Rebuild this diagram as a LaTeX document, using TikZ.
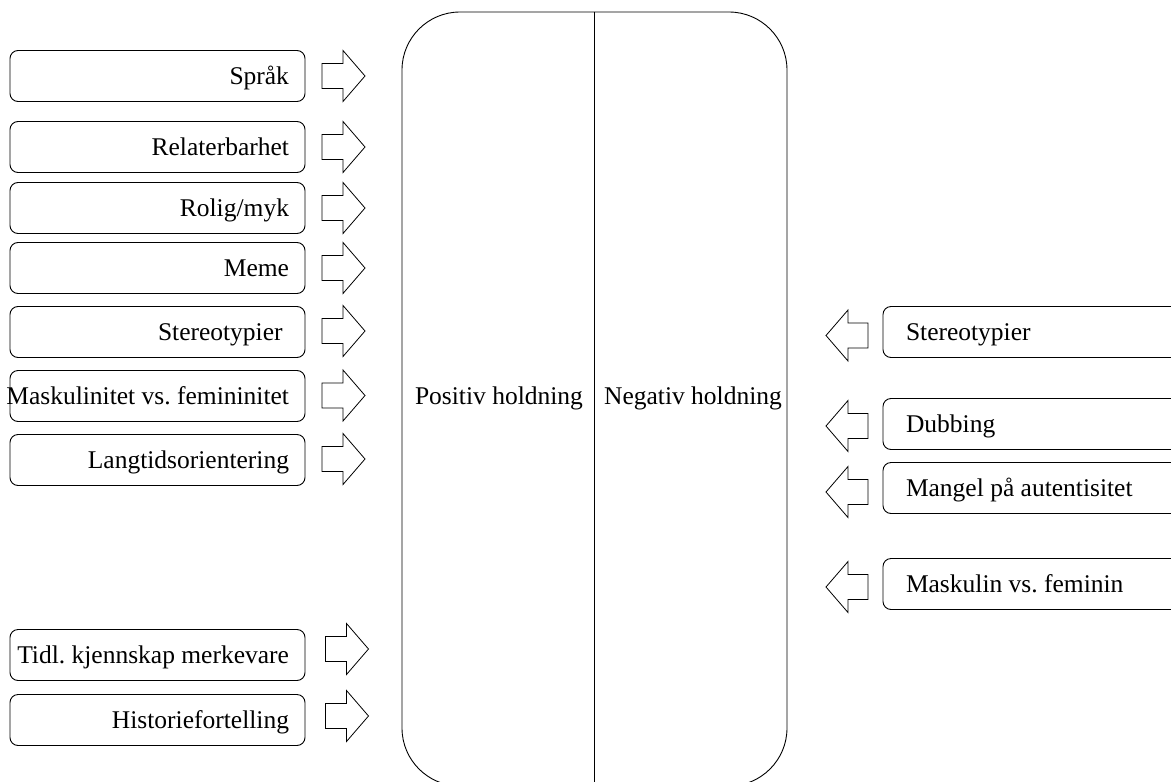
\documentclass[tikz,border=0pt]{standalone}
\usepackage{fontspec}
\setmainfont{Liberation Serif}
\frenchspacing
\begin{document}
\begin{tikzpicture}[x=1pt,y=-1pt,
  every node/.style={font=\fontsize{25.5}{30}\selectfont},
  lbox/.style={draw, line width=0.9pt, rounded corners=8pt, minimum width=295pt, minimum height=51pt, inner xsep=16pt, inner ysep=0pt, text height=17pt, text depth=0pt},
  rbox/.style={draw, line width=0.9pt, rounded corners=8pt, minimum width=317pt, minimum height=51pt, inner xsep=23pt, inner ysep=0pt, text height=17pt, text depth=0pt},
  bigbox/.style={draw, line width=0.9pt, rounded corners=58pt, minimum width=385pt, minimum height=774pt, inner sep=0pt},
  label/.style={inner sep=0pt, text height=17pt, text depth=0pt},
  arrowline/.style={draw, line width=0.8pt, line join=miter},
  rarrow/.pic={\path[arrowline] (-21.5,-12.5) -- (-0.5,-12.5) -- (-0.5,-25.5) -- (21.5,0) -- (-0.5,25.5) -- (-0.5,12.5) -- (-21.5,12.5) -- cycle;},
  larrow/.pic={\path[arrowline] (21,-12.5) -- (1,-12.5) -- (1,-25.5) -- (-21,0) -- (1,25.5) -- (1,12.5) -- (21,12.5) -- cycle;}
]
\useasboundingbox (0,0) rectangle (1171,782);

% central shape
\node[bigbox] (big) at (594.5,399) {};
\draw[line width=0.9pt] (big.north) -- (big.south);
\node[label] (pos) at (499,396) {Positiv holdning};
\node[label] (neg) at (693,396) {Negativ holdning};

% left boxes
\node[lbox] (l1) at (157.5,76) {\makebox[263pt][r]{Språk}};
\node[lbox] (l2) at (157.5,147) {\makebox[263pt][r]{Relaterbarhet}};
\node[lbox] (l3) at (157.5,208) {\makebox[263pt][r]{Rolig/myk}};
\node[lbox] (l4) at (157.5,268) {\makebox[263pt][r]{Meme}};
\node[lbox] (l5) at (157.5,332) {\makebox[263pt][r]{Stereotypier }};
\node[lbox] (l6) at (157.5,396) {\makebox[263pt][r]{Maskulinitet vs. femininitet}};
\node[lbox] (l7) at (157.5,460) {\makebox[263pt][r]{Langtidsorientering}};
\node[lbox] (l8) at (157.5,655) {\makebox[263pt][r]{Tidl. kjennskap merkevare}};
\node[lbox] (l9) at (157.5,720) {\makebox[263pt][r]{Historiefortelling}};

% left arrows
\pic (a1) at (343.5,76) {rarrow};
\pic (a2) at (343.5,147) {rarrow};
\pic (a3) at (343.5,208) {rarrow};
\pic (a4) at (343.5,268) {rarrow};
\pic (a5) at (343.5,331) {rarrow};
\pic (a6) at (343.5,395.5) {rarrow};
\pic (a7) at (343.5,459) {rarrow};
\pic (a8) at (347,649) {rarrow};
\pic (a9) at (347,716) {rarrow};

% right boxes
\node[rbox] (r1) at (1041.5,332) {\makebox[271pt][l]{Stereotypier}};
\node[rbox] (r2) at (1041.5,424) {\makebox[271pt][l]{Dubbing}};
\node[rbox] (r3) at (1041.5,488) {\makebox[271pt][l]{Mangel på autentisitet}};
\node[rbox] (r4) at (1041.5,584) {\makebox[271pt][l]{Maskulin vs. feminin}};

% right arrows
\pic (b1) at (847,335.5) {larrow};
\pic (b2) at (847,426) {larrow};
\pic (b3) at (847,492) {larrow};
\pic (b4) at (847,587) {larrow};
\end{tikzpicture}
\end{document}
